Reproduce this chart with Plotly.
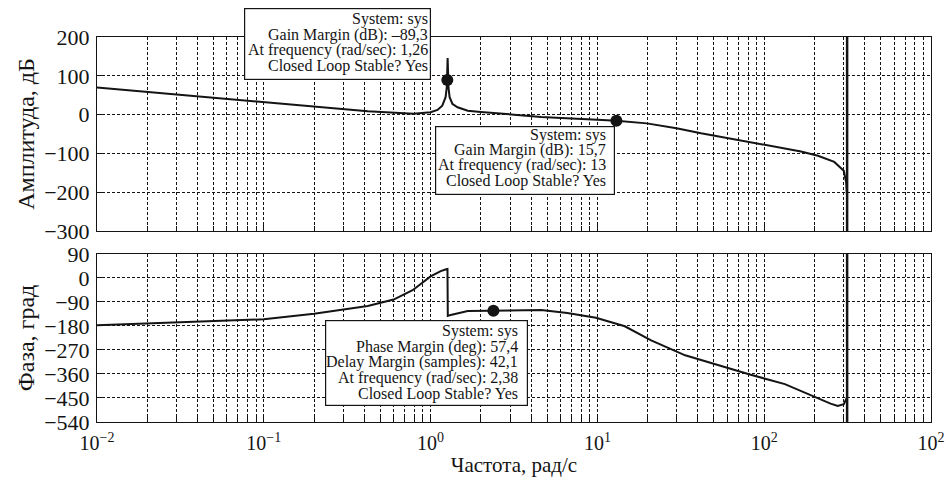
import numpy as np
import plotly.graph_objects as go

# ---------------- data ----------------
freq_mag = [0.01, 0.02, 0.042, 0.1, 0.2, 0.42, 0.79, 1.0, 1.1, 1.175, 1.23, 1.25,
            1.265, 1.28, 1.30, 1.35, 1.45, 1.67, 2.0, 2.6, 4.6, 10.7, 13, 19.8,
            29.8, 41.8, 66, 104, 166, 210, 263, 300, 310, 314]
mag_db = [70, 58.5, 46, 31, 20.5, 8.5, 2, 6, 12, 23, 45, 70,
          146, 70, 45, 28, 19, 10, 7, 3, -6, -14, -15.7, -22.6,
          -35, -48, -63, -79, -95, -106, -122, -145, -175, -213]

freq_phase = [0.01, 0.026, 0.052, 0.1, 0.2, 0.42, 0.6, 0.78, 1.0, 1.15, 1.24, 1.262,
              1.268, 1.3, 1.67, 2.38, 3.3, 4.6, 6.6, 9.8, 14.6, 21, 33.6, 53, 82,
              133, 205, 250, 276, 300, 314]
phase_deg = [-177, -169, -162, -155, -134, -105, -81, -46, 6, 26, 33, 34,
             -142, -140, -124, -122.6, -120, -120, -131, -149, -181, -234, -290, -328, -362,
             -398, -450, -471, -480, -473, -447]

gm1_w, gm1_db = 1.26, 89.3
gm2_w, gm2_db = 13, -15.7
pm_w, pm_deg = 2.38, -122.6
nyquist_w = 314.16

x_tickvals = [0.01, 0.1, 1, 10, 100, 1000]
x_ticktext = ["10<sup>−2</sup>", "10<sup>−1</sup>", "10<sup>0</sup>",
              "10<sup>1</sup>", "10<sup>2</sup>", "10<sup>2</sup>"]
x_minor = [m * 10.0 ** e for e in range(-2, 3) for m in range(2, 10)]
mag_ticks = [200, 100, 0, -100, -200, -300]
phase_ticks = [90, 0, -90, -180, -270, -360, -450, -540]

box1_lines = ["System: sys", "Gain Margin (dB): –89,3",
              "At frequency (rad/sec): 1,26", "Closed Loop Stable? Yes"]
box2_lines = ["System: sys", "Gain Margin (dB): 15,7",
              "At frequency (rad/sec): 13", "Closed Loop Stable? Yes"]
box3_lines = ["System: sys", "Phase Margin (deg): 57,4",
              "Delay Margin (samples): 42,1", "At frequency (rad/sec): 2,38",
              "Closed Loop Stable? Yes"]

# ---------------- figure ----------------
FONT = "Liberation Serif"
INK = "#141414"
GRID_DASH = "3px,2px"

fig = go.Figure()
fig.add_trace(go.Scatter(x=freq_mag, y=mag_db, mode="lines",
                         line=dict(color=INK, width=2), xaxis="x", yaxis="y",
                         showlegend=False, hoverinfo="skip"))
fig.add_trace(go.Scatter(x=freq_phase, y=phase_deg, mode="lines",
                         line=dict(color=INK, width=2), xaxis="x2", yaxis="y2",
                         showlegend=False, hoverinfo="skip"))
fig.add_trace(go.Scatter(x=[gm1_w, gm2_w], y=[gm1_db, gm2_db], mode="markers",
                         marker=dict(color=INK, size=12), xaxis="x", yaxis="y",
                         showlegend=False, hoverinfo="skip"))
fig.add_trace(go.Scatter(x=[pm_w], y=[pm_deg], mode="markers",
                         marker=dict(color=INK, size=12), xaxis="x2", yaxis="y2",
                         showlegend=False, hoverinfo="skip"))

common_x = dict(type="log", range=[-2, 3], tickvals=x_tickvals,
                ticks="inside", ticklen=7, tickcolor=INK,
                showgrid=True, gridcolor=INK, gridwidth=1, griddash=GRID_DASH,
                minor=dict(tickvals=x_minor, ticks="inside", ticklen=5,
                           tickcolor=INK, showgrid=True, gridcolor=INK,
                           gridwidth=1, griddash=GRID_DASH),
                showline=True, linecolor=INK, linewidth=1, mirror=True,
                zeroline=False, automargin=False)
common_y = dict(ticks="inside", ticklen=6, tickcolor=INK,
                showgrid=True, gridcolor=INK, gridwidth=1, griddash=GRID_DASH,
                showline=True, linecolor=INK, linewidth=1, mirror=True,
                zeroline=False, tickfont=dict(family=FONT, size=22, color=INK),
                ticklabelstandoff=2, automargin=False)

fig.update_layout(
    width=948, height=481,
    margin=dict(l=97, r=17, t=37, b=59, autoexpand=False),
    paper_bgcolor="white", plot_bgcolor="white",
    font=dict(family=FONT, color=INK),
    xaxis=dict(common_x, domain=[0, 1], anchor="y", showticklabels=False),
    xaxis2=dict(common_x, domain=[0, 1], anchor="y2", ticktext=x_ticktext,
                tickfont=dict(family=FONT, size=20, color=INK),
                ticklabelstandoff=3,
                title=dict(text="Частота, рад/с",
                           font=dict(family=FONT, size=21, color=INK),
                           standoff=4)),
    yaxis=dict(common_y, domain=[0.4961, 1], range=[-300, 200],
               tickvals=mag_ticks, anchor="x",
               title=dict(text="Амплитуда, дБ",
                          font=dict(family=FONT, size=24, color=INK),
                          standoff=2)),
    yaxis2=dict(common_y, domain=[0, 0.4364], range=[-540, 90],
                tickvals=phase_ticks, anchor="x2",
                title=dict(text="Фаза, град",
                           font=dict(family=FONT, size=24, color=INK),
                           standoff=2)),
)

# Nyquist-frequency vertical lines
for xr, yr in (("x", "y domain"), ("x2", "y2 domain")):
    fig.add_shape(type="line", xref=xr, yref=yr, x0=nyquist_w, x1=nyquist_w,
                  y0=0, y1=1, line=dict(color=INK, width=2.5), layer="above")


def data_tip(xr, yr, w, v, size, box_shift, yanchor, text_xshift, centers, lines):
    """White boxed multi-line tip placed (in pixels) relative to a data point."""
    fig.add_annotation(xref=xr, yref=yr, x=np.log10(w), y=v, text=" ",
                       showarrow=False, xanchor="right", yanchor=yanchor,
                       width=size[0], height=size[1], borderpad=0,
                       bordercolor=INK, borderwidth=1.2, bgcolor="white",
                       xshift=box_shift[0], yshift=box_shift[1])
    for c, t in zip(centers, lines):
        fig.add_annotation(xref=xr, yref=yr, x=np.log10(w), y=v,
                           text=t, showarrow=False, xanchor="right",
                           yanchor="middle", xshift=text_xshift, yshift=c,
                           font=dict(family=FONT, size=16, color=INK))


data_tip("x", "y", gm1_w, gm1_db, (185, 70), (-16.2, -0.5), "bottom", -17.5,
         [61.2, 45.4, 29.6, 13.8], box1_lines)
data_tip("x", "y", gm2_w, gm2_db, (178, 67), (-1.3, -5), "top", -8.5,
         [-14, -29.4, -44.8, -60.2], box2_lines)
data_tip("x2", "y2", pm_w, pm_deg, (201, 84), (34.2, -9.7), "top", 27,
         [-20.4, -36, -51.7, -67.3, -83], box3_lines)

fig.write_html("out.html", config={"displayModeBar": False},
               post_script="document.body.style.margin='0';")
